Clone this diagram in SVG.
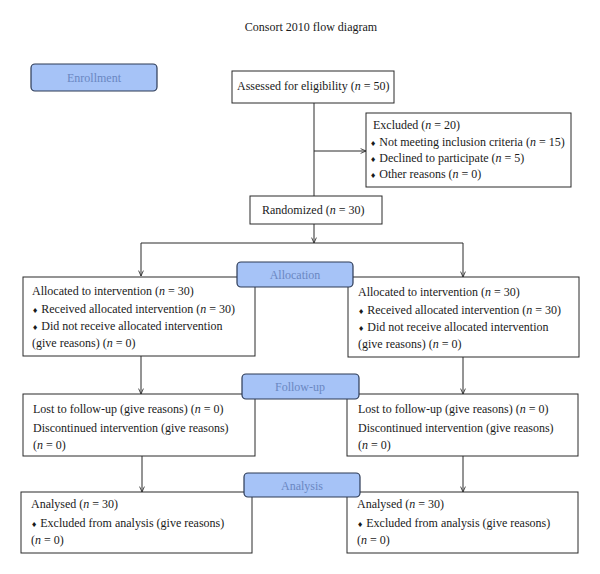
<svg xmlns="http://www.w3.org/2000/svg" width="600" height="574" viewBox="0 0 600 574">
<style>
  text { font-family: "Liberation Serif", "Times New Roman", serif; font-size: 12px; fill: #1a1a1a; }
  .i { font-style: italic; }
  .b { font-family: "DejaVu Sans", sans-serif; font-size: 7px; }
  .box { fill: #ffffff; stroke: #2a2a2a; stroke-width: 1; }
  .lbl { fill: #a6c3f7; stroke: #2c3a55; stroke-width: 1.2; }
  .lt { fill: #6a87c2; text-anchor: middle; font-size: 12px; }
  .conn { fill: none; stroke: #2a2a2a; stroke-width: 1; }
</style>
<defs>
  <marker id="arr" viewBox="0 0 10 10" refX="10" refY="5" markerWidth="6" markerHeight="6" markerUnits="userSpaceOnUse" orient="auto">
    <path d="M1,1 L10,5 L1,9" fill="none" stroke="#2a2a2a" stroke-width="1.4"/>
  </marker>
</defs>
<rect width="600" height="574" fill="#ffffff"/>
<text id="title" x="311" y="31" text-anchor="middle">Consort 2010 flow diagram</text>

<g id="connectors">
  <path class="conn" d="M314,103 V196"/>
  <path class="conn" d="M314,151 H366" marker-end="url(#arr)"/>
  <path class="conn" d="M314,224 V243" marker-end="url(#arr)"/>
  <path class="conn" d="M141,243 H463"/>
  <path class="conn" d="M141,243 V276" marker-end="url(#arr)"/>
  <path class="conn" d="M463,243 V277" marker-end="url(#arr)"/>
  <path class="conn" d="M141,356 V394" marker-end="url(#arr)"/>
  <path class="conn" d="M463,357 V394" marker-end="url(#arr)"/>
  <path class="conn" d="M142,456 V492" marker-end="url(#arr)"/>
  <path class="conn" d="M463,456 V492" marker-end="url(#arr)"/>
</g>

<g id="assessed">
  <rect class="box" x="232" y="71" width="162" height="32"/>
  <text x="237" y="90">Assessed for eligibility (<tspan class="i">n</tspan> = 50)</text>
</g>
<g id="excluded">
  <rect class="box" x="366" y="113" width="205" height="74"/>
  <text x="373" y="129">Excluded (<tspan class="i">n</tspan> = 20)</text>
  <text x="370" y="146"><tspan class="b">♦</tspan> Not meeting inclusion criteria (<tspan class="i">n</tspan> = 15)</text>
  <text x="370" y="162"><tspan class="b">♦</tspan> Declined to participate (<tspan class="i">n</tspan> = 5)</text>
  <text x="370" y="178"><tspan class="b">♦</tspan> Other reasons (<tspan class="i">n</tspan> = 0)</text>
</g>
<g id="randomized">
  <rect class="box" x="250" y="196" width="132" height="28"/>
  <text x="262" y="214">Randomized (<tspan class="i">n</tspan> = 30)</text>
</g>

<g id="alloc-left">
  <rect class="box" x="23" y="277" width="232" height="79"/>
  <text x="32" y="295">Allocated to intervention (<tspan class="i">n</tspan> = 30)</text>
  <text x="32" y="313"><tspan class="b">♦</tspan> Received allocated intervention (<tspan class="i">n</tspan> = 30)</text>
  <text x="32" y="330"><tspan class="b">♦</tspan> Did not receive allocated intervention</text>
  <text x="32" y="347">(give reasons) (<tspan class="i">n</tspan> = 0)</text>
</g>
<g id="alloc-right">
  <rect class="box" x="348" y="277" width="231" height="80"/>
  <text x="358" y="296">Allocated to intervention (<tspan class="i">n</tspan> = 30)</text>
  <text x="358" y="314"><tspan class="b">♦</tspan> Received allocated intervention (<tspan class="i">n</tspan> = 30)</text>
  <text x="358" y="331"><tspan class="b">♦</tspan> Did not receive allocated intervention</text>
  <text x="358" y="348">(give reasons) (<tspan class="i">n</tspan> = 0)</text>
</g>

<g id="follow-left">
  <rect class="box" x="23" y="394" width="232" height="62"/>
  <text x="33" y="413">Lost to follow-up (give reasons) (<tspan class="i">n</tspan> = 0)</text>
  <text x="33" y="432">Discontinued intervention (give reasons)</text>
  <text x="33" y="449">(<tspan class="i">n</tspan> = 0)</text>
</g>
<g id="follow-right">
  <rect class="box" x="347" y="394" width="231" height="62"/>
  <text x="358" y="413">Lost to follow-up (give reasons) (<tspan class="i">n</tspan> = 0)</text>
  <text x="358" y="432">Discontinued intervention (give reasons)</text>
  <text x="358" y="449">(<tspan class="i">n</tspan> = 0)</text>
</g>

<g id="analysis-left">
  <rect class="box" x="21" y="492" width="231" height="61"/>
  <text x="31" y="508">Analysed (<tspan class="i">n</tspan> = 30)</text>
  <text x="31" y="527"><tspan class="b">♦</tspan> Excluded from analysis (give reasons)</text>
  <text x="31" y="544">(<tspan class="i">n</tspan> = 0)</text>
</g>
<g id="analysis-right">
  <rect class="box" x="347" y="492" width="231" height="61"/>
  <text x="357" y="508">Analysed (<tspan class="i">n</tspan> = 30)</text>
  <text x="357" y="527"><tspan class="b">♦</tspan> Excluded from analysis (give reasons)</text>
  <text x="357" y="544">(<tspan class="i">n</tspan> = 0)</text>
</g>

<g id="enrollment">
  <rect class="lbl" x="31" y="64" width="126" height="27" rx="4"/>
  <text class="lt" x="94" y="82">Enrollment</text>
</g>
<g id="allocation">
  <rect class="lbl" x="237" y="262" width="116" height="25" rx="4"/>
  <text class="lt" x="295" y="279">Allocation</text>
</g>
<g id="followup">
  <rect class="lbl" x="242" y="374" width="117" height="25" rx="4"/>
  <text class="lt" x="300" y="391">Follow-up</text>
</g>
<g id="analysis">
  <rect class="lbl" x="244" y="473" width="116" height="24" rx="4"/>
  <text class="lt" x="302" y="490">Analysis</text>
</g>
</svg>
